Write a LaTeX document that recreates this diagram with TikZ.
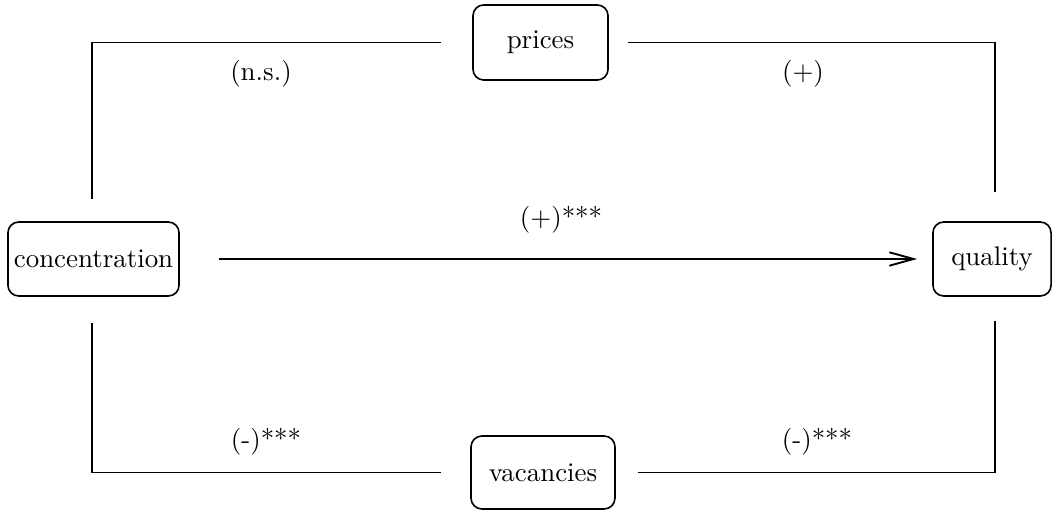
\documentclass[tikz,border=0pt]{standalone}
\usetikzlibrary{arrows.meta}
\begin{document}
\begin{tikzpicture}[x=0.3717pt,y=-0.3717pt,
  box/.style={draw, line width=0.6pt, rounded corners=4pt, minimum height=27.5pt, inner sep=2pt},
  link/.style={line width=0.7pt},
  lbl/.style={anchor=base, inner sep=0pt}]
\useasboundingbox (0,0) rectangle (1052,511);

% variables
\node[box, minimum width=63.6pt] (conc) at (93.5,259) {concentration};
\node[box, minimum width=43.9pt] (qual) at (992,259) {quality};
\node[box, minimum width=50.2pt, minimum height=27.9pt] (prices) at (540.5,42.5) {prices};
\node[box, minimum width=53.5pt, minimum height=27.1pt] (vac) at (543,472.5) {vacancies};

% channel through prices
\draw[link, shorten <=8.2pt, shorten >=11.5pt] ([xshift=-0.5pt]conc.north) |- (prices.west);
\draw[link, shorten <=7.1pt, shorten >=10.8pt] (prices.east) -| ([xshift=1.1pt]qual.north);

% channel through vacancies
\draw[link, shorten <=9.7pt, shorten >=10.8pt] ([xshift=-0.5pt]conc.south) |- (vac.west);
\draw[link, shorten <=8.2pt, shorten >=8.9pt] (vac.east) -| ([xshift=1.1pt]qual.south);

% direct effect
\draw[link, -{Straight Barb[length=9pt,width=5pt]}, shorten <=14.5pt, shorten >=5.6pt] (conc.east) -- (qual.west);

% effect signs
\node[lbl] (lns) at (261,81) {(n.s.)};
\node[lbl] (lpq) at (803,81) {(+)};
\node[lbl] (ldir) at (561,226) {(+)***};
\node[lbl] (lcv) at (266,448) {(-)***};
\node[lbl] (lvq) at (817,448) {(-)***};
\end{tikzpicture}
\end{document}
